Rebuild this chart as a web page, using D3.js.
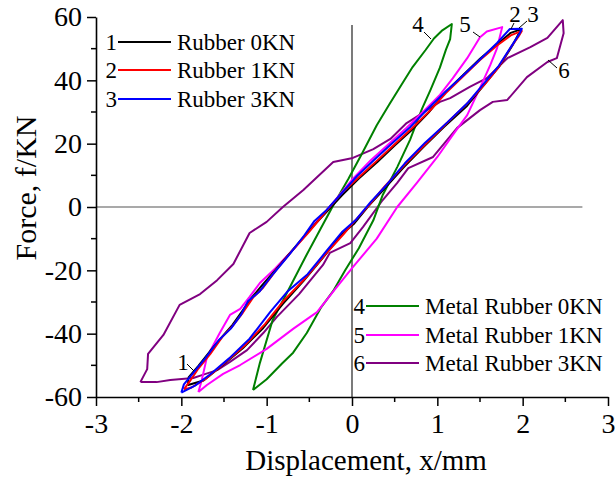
<!DOCTYPE html>
<html>
<head>
<meta charset="utf-8">
<script src="https://cdn.jsdelivr.net/npm/d3@7"></script>
<style>
  body { margin: 0; background: #fff; }
  svg { display: block; font-family: "Liberation Serif", "Times New Roman", serif; }
  svg text { font-family: "Liberation Serif", "Times New Roman", serif; }
</style>
</head>
<body>
<svg id="chart" width="615" height="477"></svg>
<script>
// tick values
var xTicks = [-3, -2, -1, 0, 1, 2, 3];
var xMinor = [-2.5, -1.5, -0.5, 0.5, 1.5, 2.5];
var yTicks = [-60, -40, -20, 0, 20, 40, 60];
var yMinor = [-50, -30, -10, 10, 30, 50];

// legend entries
var names = ["Rubber 0KN", "Rubber 1KN", "Rubber 3KN",
             "Metal Rubber 0KN", "Metal Rubber 1KN", "Metal Rubber 3KN"];
var colors = ["#000000", "#ff0000", "#0000ff", "#008000", "#ff00ff", "#800080"];

// hysteresis loops, [displacement mm, force kN]
var rubber0 = [[-1.92,-54.0],[-1.80,-50.2],[-1.66,-45.4],[-1.50,-40.3],[-1.40,-37.2],[-1.28,-32.6],[-1.18,-28.8],[-1.05,-24.6],[-0.90,-20.0],[-0.72,-14.3],[-0.50,-7.4],[-0.30,-1.6],[-0.12,3.6],[0.08,9.0],[0.30,14.3],[0.50,19.4],[0.70,24.3],[0.90,29.9],[1.10,36.4],[1.30,41.6],[1.50,46.8],[1.70,51.4],[1.86,55.0],[1.97,56.0],
  [1.96,55.0],[1.88,51.0],[1.73,44.6],[1.54,38.3],[1.35,32.0],[1.08,25.3],[0.84,19.0],[0.60,12.4],[0.37,5.5],[0.19,0.2],[0.02,-5.4],[-0.12,-8.6],[-0.34,-16.0],[-0.57,-23.4],[-0.81,-30.6],[-1.04,-38.2],[-1.28,-44.6],[-1.50,-49.6],[-1.74,-54.8],[-1.92,-56.2],[-1.92,-54.0]];
var rubber1 = [[-1.97,-57.6],[-1.90,-55.0],[-1.80,-51.0],[-1.66,-46.4],[-1.52,-41.0],[-1.40,-37.6],[-1.28,-33.4],[-1.16,-28.6],[-1.04,-25.4],[-0.88,-19.6],[-0.70,-13.8],[-0.50,-7.8],[-0.30,-1.2],[-0.12,4.4],[0.08,9.4],[0.30,14.8],[0.50,19.8],[0.70,24.8],[0.92,30.6],[1.10,36.0],[1.30,41.2],[1.50,46.4],[1.70,51.0],[1.86,54.2],[1.99,55.6],
  [1.95,53.8],[1.86,50.4],[1.72,44.2],[1.55,38.6],[1.34,32.4],[1.10,26.2],[0.86,19.8],[0.62,13.4],[0.38,6.4],[0.20,0.6],[0.02,-4.8],[-0.10,-8.6],[-0.32,-15.2],[-0.55,-22.6],[-0.80,-29.6],[-1.02,-37.0],[-1.26,-43.8],[-1.50,-49.4],[-1.72,-54.4],[-1.88,-57.0],[-1.97,-57.6]];
var rubber3 = [[-2.00,-58.6],[-1.97,-56.0],[-1.86,-52.4],[-1.72,-47.8],[-1.56,-42.0],[-1.42,-38.4],[-1.30,-34.0],[-1.22,-29.8],[-1.08,-26.6],[-0.92,-21.0],[-0.74,-15.2],[-0.56,-9.0],[-0.44,-4.4],[-0.30,-1.0],[-0.14,3.8],[0.06,9.8],[0.28,15.4],[0.48,20.4],[0.68,25.2],[0.88,30.8],[1.08,36.0],[1.28,41.0],[1.50,46.6],[1.70,51.8],[1.85,56.2],[1.99,56.3],
  [1.96,54.6],[1.86,50.4],[1.72,44.6],[1.54,38.8],[1.36,33.0],[1.12,26.8],[0.86,20.4],[0.62,13.8],[0.40,6.8],[0.22,1.6],[0.04,-4.2],[-0.12,-8.0],[-0.32,-14.6],[-0.52,-21.2],[-0.76,-26.8],[-0.96,-33.2],[-1.20,-41.6],[-1.44,-47.8],[-1.66,-52.8],[-1.84,-56.4],[-2.00,-58.6]];
var metal0 = [[-1.16,-57.8],[-1.08,-49.3],[-0.93,-35.7],[-0.78,-28.0],[-0.55,-16.0],[-0.36,-6.5],[-0.20,1.5],[-0.04,9.0],[0.11,16.5],[0.29,25.8],[0.44,32.5],[0.58,38.6],[0.71,44.2],[0.86,49.5],[0.96,53.2],[1.05,55.6],[1.17,57.8],
  [1.15,53.0],[1.10,49.6],[1.03,44.0],[0.92,37.0],[0.82,31.0],[0.68,21.2],[0.53,12.6],[0.36,3.8],[0.25,-4.2],[0.08,-13.0],[-0.08,-20.0],[-0.22,-26.5],[-0.36,-31.6],[-0.53,-39.8],[-0.69,-46.0],[-0.82,-49.4],[-1.00,-54.4],[-1.16,-57.8]];
var metal1 = [[-1.80,-58.4],[-1.76,-54.6],[-1.70,-47.4],[-1.55,-39.8],[-1.43,-34.1],[-1.31,-32.2],[-1.20,-28.4],[-1.08,-24.0],[-0.90,-19.4],[-0.66,-12.6],[-0.44,-5.4],[-0.22,1.4],[0.00,8.6],[0.22,14.8],[0.45,20.4],[0.64,25.0],[0.83,30.0],[1.03,35.4],[1.18,40.6],[1.35,47.0],[1.50,53.6],[1.58,55.4],[1.76,56.8],
  [1.70,50.2],[1.62,44.8],[1.50,37.6],[1.35,29.0],[1.18,22.7],[1.00,15.8],[0.76,7.6],[0.53,0.0],[0.29,-10.0],[0.01,-19.0],[-0.20,-26.0],[-0.41,-33.2],[-0.69,-38.5],[-1.00,-44.8],[-1.31,-49.9],[-1.51,-52.7],[-1.70,-56.2],[-1.80,-58.4]];
var metal3 = [[-2.48,-55.3],[-2.40,-51.2],[-2.39,-46.4],[-2.21,-40.4],[-2.02,-30.9],[-1.78,-27.5],[-1.58,-23.1],[-1.39,-18.0],[-1.20,-8.2],[-1.00,-4.7],[-0.81,0.0],[-0.57,5.4],[-0.22,14.2],[0.01,15.5],[0.25,18.3],[0.45,21.5],[0.64,26.5],[0.83,29.7],[1.03,33.2],[1.15,34.4],[1.38,37.9],[1.58,40.7],[1.82,47.0],[2.09,50.5],[2.29,53.4],[2.47,59.0],
  [2.48,54.9],[2.40,47.0],[2.29,45.8],[2.05,41.0],[1.82,33.8],[1.65,33.2],[1.50,30.6],[1.23,24.9],[0.95,15.8],[0.66,12.3],[0.53,7.6],[0.36,2.2],[0.13,-6.3],[-0.02,-11.4],[-0.26,-14.5],[-0.34,-18.3],[-0.62,-27.5],[-0.88,-34.7],[-1.04,-39.8],[-1.23,-45.2],[-1.43,-48.9],[-1.58,-51.5],[-1.75,-53.0],[-1.86,-54.0],[-2.13,-54.6],[-2.29,-55.3],[-2.48,-55.3]];

var loops = [rubber0, rubber1, rubber3, metal0, metal1, metal3];

var svg = d3.select("#chart");
var x = d3.scaleLinear().domain([-3, 3]).range([96, 608]);
var y = d3.scaleLinear().domain([-60, 60]).range([397, 17]);

// zero reference lines
svg.append("line")
    .attr("x1", x(-3)).attr("x2", x(2.7))
    .attr("y1", y(0)).attr("y2", y(0))
    .attr("stroke", "#555").attr("stroke-width", 1.2);
svg.append("line")
    .attr("x1", x(0)).attr("x2", x(0))
    .attr("y1", y(57.5)).attr("y2", y(-60))
    .attr("stroke", "#222").attr("stroke-width", 1.2);

var line = d3.line().x(function(d){ return x(d[0]); }).y(function(d){ return y(d[1]); });

// draw purple first, rubber loops on top
var order = [5, 3, 4, 0, 1, 2];
order.forEach(function(i){
    svg.append("path")
        .attr("d", line(loops[i]))
        .attr("fill", "none")
        .attr("stroke", colors[i])
        .attr("stroke-width", 2)
        .attr("stroke-linejoin", "round");
});

// axes
var fmt = function(d){ return String(d); };
var xAxis = svg.append("g").attr("transform", "translate(0," + y(-60) + ")")
    .call(d3.axisBottom(x).tickValues(xTicks).tickFormat(fmt).tickSize(9).tickSizeOuter(0).tickPadding(7));
xAxis.append("g").selectAll("line").data(xMinor).enter().append("line")
    .attr("x1", x).attr("x2", x).attr("y1", 0).attr("y2", 5).attr("stroke", "#000").attr("stroke-width", 1.5);
var yAxis = svg.append("g").attr("transform", "translate(" + x(-3) + ",0)")
    .call(d3.axisLeft(y).tickValues(yTicks).tickFormat(fmt).tickSize(9).tickSizeOuter(0).tickPadding(5));
yAxis.append("g").selectAll("line").data(yMinor).enter().append("line")
    .attr("y1", y).attr("y2", y).attr("x1", 0).attr("x2", -5).attr("stroke", "#000").attr("stroke-width", 1.5);

xAxis.attr("font-family", null).attr("font-size", 28);
yAxis.attr("font-family", null).attr("font-size", 28);
svg.selectAll(".domain").attr("stroke", "#000").attr("stroke-width", 1.6);
svg.selectAll(".tick line").attr("stroke", "#000").attr("stroke-width", 1.5);
svg.selectAll(".tick text").attr("fill", "#000");
xAxis.selectAll(".tick text").attr("dy", "0.71em");

// axis titles
svg.append("text")
    .attr("x", 366).attr("y", 470)
    .attr("text-anchor", "middle").attr("font-size", 29)
    .text("Displacement, x/mm");
svg.append("text")
    .attr("transform", "translate(36,188) rotate(-90)")
    .attr("text-anchor", "middle").attr("font-size", 30)
    .text("Force, f/KN");

// legends
var legendRows = [
    {i: 0, num: "1", y: 42, x0: 118},
    {i: 1, num: "2", y: 70, x0: 118},
    {i: 2, num: "3", y: 99, x0: 118},
    {i: 3, num: "4", y: 306, x0: 366},
    {i: 4, num: "5", y: 335, x0: 366},
    {i: 5, num: "6", y: 363, x0: 366}
];
legendRows.forEach(function(r){
    svg.append("text").attr("x", r.x0 - 1).attr("y", r.y + 8)
        .attr("text-anchor", "end").attr("font-size", 23).text(r.num);
    svg.append("line").attr("x1", r.x0).attr("x2", r.x0 + 53)
        .attr("y1", r.y).attr("y2", r.y)
        .attr("stroke", colors[r.i]).attr("stroke-width", 2);
    svg.append("text").attr("x", r.x0 + 59).attr("y", r.y + 8)
        .attr("font-size", 23).text(names[r.i]);
});

// curve labels with leader lines
var tags = [
    {t: "1", x: 183, y: 370, lx1: 187, ly1: 364, lx2: 194, ly2: 371},
    {t: "2", x: 515, y: 22, lx1: 514, ly1: 23, lx2: 511, ly2: 29},
    {t: "3", x: 533, y: 22, lx1: 527, ly1: 21, lx2: 519, ly2: 28},
    {t: "4", x: 418, y: 32, lx1: 424, ly1: 32, lx2: 431, ly2: 39},
    {t: "5", x: 465, y: 32, lx1: 473, ly1: 32, lx2: 480, ly2: 37},
    {t: "6", x: 564, y: 78, lx1: 548, ly1: 60, lx2: 557, ly2: 68}
];
tags.forEach(function(d){
    svg.append("text").attr("x", d.x).attr("y", d.y)
        .attr("text-anchor", "middle").attr("font-size", 23).text(d.t);
    svg.append("line").attr("x1", d.lx1).attr("y1", d.ly1).attr("x2", d.lx2).attr("y2", d.ly2)
        .attr("stroke", "#000").attr("stroke-width", 1);
});
</script>
</body>
</html>
